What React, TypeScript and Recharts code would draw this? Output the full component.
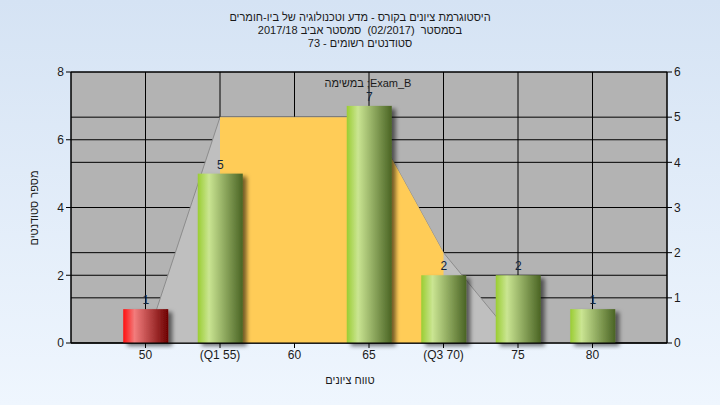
import {
  ComposedChart,
  Bar,
  Area,
  XAxis,
  YAxis,
  CartesianGrid,
  LabelList,
} from "recharts";

const grades = [50, 55, 60, 65, 70, 75, 80];
const gradeLabels = ["50", "(Q1 55)", "60", "65", "(Q3 70)", "75", "80"];
const students = [1, 5, 0, 7, 2, 2, 1];
const curve = [0, 5, 5, 5, 2, 0, 0];
const iqr = [null, 5, 5, 5, 2, null, null];
const failing = [true, false, false, false, false, false, false];

const titleLines = [
  "היסטוגרמת ציונים בקורס - מדע וטכנולוגיה של ביו-חומרים",
  "בסמסטר  (02/2017)  סמסטר אביב 2017/18",
  "סטודנטים רשומים - 73",
];
const seriesName = "במשימה ;Exam_B";
const yTitle = "מספר סטודנטים";
const xTitle = "טווח ציונים";

const data = grades.map((g, i) => ({
  grade: g,
  students: students[i],
  curve: curve[i],
  iqr: iqr[i],
  fail: failing[i],
}));

const font = "'Liberation Sans', Arial, sans-serif";
const textColor = "#1a1a1a";

function CylBar(props: any) {
  const { x, y, width, height, payload } = props;
  if (!height || height <= 0) return <g />;
  return (
    <rect
      x={x}
      y={y}
      width={width}
      height={height}
      fill={payload.fail ? "url(#barRed)" : "url(#barGreen)"}
      filter="url(#barShadow)"
    />
  );
}

export default function App() {
  return (
    <div
      style={{
        position: "absolute",
        left: 0,
        top: 0,
        width: 720,
        height: 405,
        background: "linear-gradient(180deg, #d5e3f4 0%, #eff6fe 100%)",
        fontFamily: font,
        overflow: "hidden",
      }}
    >
      <svg width={0} height={0} style={{ position: "absolute" }}>
        <defs>
          <linearGradient id="barGreen" x1="0" y1="0" x2="1" y2="0">
            <stop offset="0%" stopColor="#9acd32" />
            <stop offset="25%" stopColor="#cae592" />
            <stop offset="100%" stopColor="#4a6424" />
          </linearGradient>
          <linearGradient id="barRed" x1="0" y1="0" x2="1" y2="0">
            <stop offset="0%" stopColor="#ff1010" />
            <stop offset="25%" stopColor="#f27c7c" />
            <stop offset="100%" stopColor="#6e0000" />
          </linearGradient>
          <filter id="barShadow" x="-20%" y="-20%" width="160%" height="140%">
            <feDropShadow dx="4" dy="3" stdDeviation="2" floodColor="#000" floodOpacity="0.55" />
          </filter>
        </defs>
      </svg>

      <div
        dir="rtl"
        style={{
          position: "absolute",
          top: 11,
          left: 0,
          width: 720,
          textAlign: "center",
          fontSize: 11,
          lineHeight: "13px",
          color: textColor,
          whiteSpace: "pre",
        }}
      >
        {titleLines.map((t) => (
          <div key={t}>{t}</div>
        ))}
      </div>

      <ComposedChart
        width={720}
        height={405}
        data={data}
        margin={{ top: 72, right: 13, bottom: 32, left: 31 }}
      >
        <CartesianGrid
          yAxisId="left"
          stroke="#000"
          fill="#b3b3b3"
          fillOpacity={1}
        />
        <CartesianGrid yAxisId="right" stroke="#000" vertical={false} />
        <XAxis
          dataKey="grade"
          type="number"
          domain={[45, 85]}
          ticks={grades}
          interval={0}
          tickFormatter={(v) => gradeLabels[grades.indexOf(v)]}
          height={30}
          tickSize={5}
          axisLine={{ stroke: "#000" }}
          tickLine={{ stroke: "#000" }}
          tick={{ fill: textColor, fontSize: 12, fontFamily: font }}
        />
        <YAxis
          yAxisId="left"
          orientation="left"
          domain={[0, 8]}
          ticks={[0, 2, 4, 6, 8]}
          width={40}
          tickSize={5}
          axisLine={{ stroke: "#000" }}
          tickLine={{ stroke: "#000" }}
          tick={{ fill: textColor, fontSize: 12, fontFamily: font }}
        />
        <YAxis
          yAxisId="right"
          orientation="right"
          domain={[0, 6]}
          ticks={[0, 1, 2, 3, 4, 5, 6]}
          width={40}
          tickSize={5}
          axisLine={{ stroke: "#000" }}
          tickLine={{ stroke: "#000" }}
          tick={{ fill: textColor, fontSize: 12, fontFamily: font }}
        />
        <Area
          yAxisId="right"
          type="linear"
          dataKey="curve"
          fill="#bfbfbf"
          fillOpacity={1}
          stroke="#8c8c8c"
          strokeWidth={1}
          dot={false}
          activeDot={false}
          isAnimationActive={false}
        />
        <Area
          yAxisId="right"
          type="linear"
          dataKey="iqr"
          fill="#ffcc57"
          fillOpacity={1}
          stroke="none"
          dot={false}
          activeDot={false}
          isAnimationActive={false}
        />
        <Bar
          yAxisId="left"
          dataKey="students"
          barSize={45}
          shape={CylBar}
          isAnimationActive={false}
        >
          <LabelList
            dataKey="students"
            position="top"
            offset={5}
            formatter={(v: any) => (v === 0 ? "" : v)}
            fill="#10243c"
            fontSize={12}
            fontFamily={font}
          />
        </Bar>
      </ComposedChart>

      <div
        style={{
          position: "absolute",
          left: 368,
          top: 77,
          transform: "translateX(-50%)",
          fontSize: 11,
          color: textColor,
          whiteSpace: "nowrap",
        }}
      >
        {seriesName}
      </div>
      <div
        style={{
          position: "absolute",
          left: 34,
          top: 208,
          transform: "translate(-50%, -50%) rotate(-90deg)",
          fontSize: 11,
          color: textColor,
          whiteSpace: "nowrap",
        }}
      >
        {yTitle}
      </div>
      <div
        style={{
          position: "absolute",
          left: 350,
          top: 374,
          transform: "translateX(-50%)",
          fontSize: 11,
          color: textColor,
          whiteSpace: "nowrap",
        }}
      >
        {xTitle}
      </div>
    </div>
  );
}
